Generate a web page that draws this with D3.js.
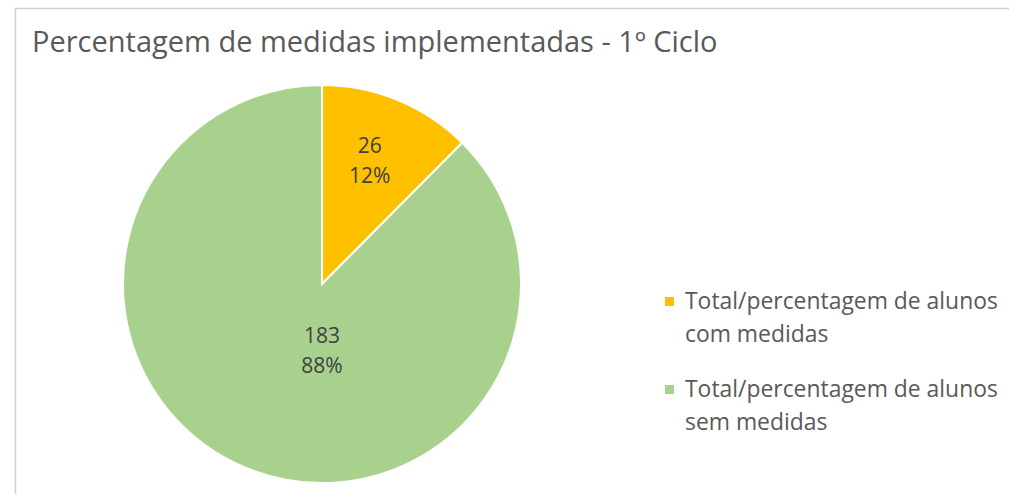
<!DOCTYPE html>
<html>
<head>
<meta charset="utf-8">
<script src="https://cdn.jsdelivr.net/npm/d3@7"></script>
<style>
  html, body { margin: 0; padding: 0; background: #fff; }
  svg { display: block; }
</style>
</head>
<body>
<div id="chart"></div>
<script>
// data
const categories = ['Total/percentagem de alunos com medidas', 'Total/percentagem de alunos sem medidas'];
const legendLines = [['Total/percentagem de alunos', 'com medidas'], ['Total/percentagem de alunos', 'sem medidas']];
const values = [26, 183];
const percents = ['12%', '88%'];
const colors = ['#FFC000', '#A9D18E'];

const width = 1009, height = 494;
const cx = 322, cy = 284, radius = 199;
const font = 'Open Sans, sans-serif';

const svg = d3.select('#chart').append('svg')
  .attr('width', width)
  .attr('height', height);

// chart frame
svg.append('rect')
  .attr('x', 15.5).attr('y', 8.5)
  .attr('width', width + 20).attr('height', height + 20)
  .attr('fill', '#fff')
  .attr('stroke', '#d0d0d0')
  .attr('stroke-width', 1.5);

svg.append('text')
  .attr('x', 32).attr('y', 52)
  .style('font-family', font)
  .style('font-size', '29px')
  .style('fill', '#595959')
  .text('Percentagem de medidas implementadas - 1º Ciclo');

const pie = d3.pie().sort(null).value(d => d);
const arcs = pie(values);

const arc = d3.arc().innerRadius(0).outerRadius(radius);
const labelArc = d3.arc().innerRadius(radius * 0.63).outerRadius(radius * 0.63);

const g = svg.append('g').attr('transform', `translate(${cx},${cy})`);

g.selectAll('path')
  .data(arcs)
  .enter().append('path')
  .attr('d', arc)
  .attr('fill', (d, i) => colors[i])
  .attr('stroke', '#fff')
  .attr('stroke-width', 2);

// label positions: small slice at its centroid, big slice placed like excel's best fit
function labelPos(d, i) {
  if (i === 0) return labelArc.centroid(d);
  return [0, radius * 0.37];
}

const labels = g.selectAll('.lbl')
  .data(arcs)
  .enter().append('text')
  .attr('class', 'lbl')
  .attr('transform', (d, i) => `translate(${labelPos(d, i)})`)
  .style('text-anchor', 'middle')
  .style('font-family', font)
  .style('font-size', '21px')
  .style('fill', '#404040');

labels.append('tspan').attr('x', 0).attr('y', -15).text((d, i) => values[i]);
labels.append('tspan').attr('x', 0).attr('y', 15).text((d, i) => percents[i]);

// legend
const legend = svg.append('g').attr('transform', 'translate(665,0)');
const item = legend.selectAll('.item')
  .data(categories)
  .enter().append('g')
  .attr('class', 'item')
  .attr('transform', (d, i) => `translate(0,${302 + i * 88})`);

item.append('rect')
  .attr('x', 0).attr('y', -5)
  .attr('width', 9).attr('height', 9)
  .attr('fill', (d, i) => colors[i]);

item.append('text')
  .attr('x', 20).attr('y', 7)
  .style('font-family', font)
  .style('font-size', '22.9px')
  .style('fill', '#595959')
  .selectAll('tspan')
  .data((d, i) => legendLines[i])
  .enter().append('tspan')
  .attr('x', 20)
  .attr('dy', (d, j) => j === 0 ? 0 : 33)
  .text(d => d);
</script>
</body>
</html>
